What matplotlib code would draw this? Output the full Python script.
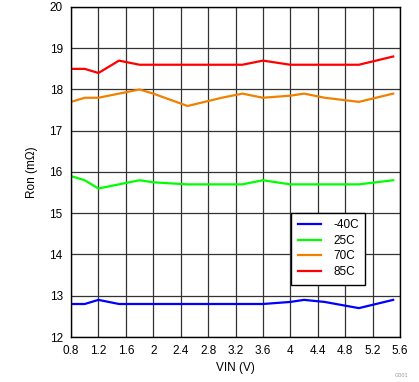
import matplotlib
matplotlib.use('Agg')
import matplotlib.pyplot as plt
import numpy as np

plt.rcParams['font.family'] = ['Liberation Sans', 'DejaVu Sans']

# VIN sample points (V)
vin = [0.8, 1.0, 1.2, 1.5, 1.8, 2.0, 2.5, 3.0, 3.3, 3.6, 4.0, 4.2, 4.5, 5.0, 5.5]

# Ron (mOhm) per temperature
ron_m40 = [12.8, 12.8, 12.9, 12.8, 12.8, 12.8, 12.8, 12.8, 12.8, 12.8, 12.85, 12.9, 12.85, 12.7, 12.9]
ron_25 = [15.9, 15.8, 15.6, 15.7, 15.8, 15.75, 15.7, 15.7, 15.7, 15.8, 15.7, 15.7, 15.7, 15.7, 15.8]
ron_70 = [17.7, 17.8, 17.8, 17.9, 18.0, 17.9, 17.6, 17.8, 17.9, 17.8, 17.85, 17.9, 17.8, 17.7, 17.9]
ron_85 = [18.5, 18.5, 18.4, 18.7, 18.6, 18.6, 18.6, 18.6, 18.6, 18.7, 18.6, 18.6, 18.6, 18.6, 18.8]

labels = ['-40C', '25C', '70C', '85C']
colors = ['#0000FF', '#00FF00', '#F08000', '#FF0000']

xticks = [0.8, 1.2, 1.6, 2, 2.4, 2.8, 3.2, 3.6, 4, 4.4, 4.8, 5.2, 5.6]
xticklabels = ['0.8', '1.2', '1.6', '2', '2.4', '2.8', '3.2', '3.6', '4', '4.4', '4.8', '5.2', '5.6']

fig = plt.figure(figsize=(4.19, 3.82), dpi=100)
ax = fig.add_axes([0.1695, 0.1178, 0.7852, 0.8639])

for y, lab, c in zip([ron_m40, ron_25, ron_70, ron_85], labels, colors):
    ax.plot(vin, y, color=c, lw=1.6, label=lab)

ax.set_xlim(0.8, 5.6)
ax.set_ylim(12, 20)
ax.set_xticks(xticks)
ax.set_xticklabels(xticklabels)
ax.set_yticks(range(12, 21))
ax.tick_params(length=0, labelsize=8.5, pad=6)
ax.grid(True, color='#333333', lw=0.9)
ax.set_axisbelow(True)
for s in ax.spines.values():
    s.set_color('black')
    s.set_linewidth(1.0)

ax.set_xlabel('VIN (V)', fontsize=8.5, labelpad=3)
ax.set_ylabel('Ron (m\u03a9)', fontsize=8.5, labelpad=8)

leg = ax.legend(loc='upper left', bbox_to_anchor=(0.669, 0.376), fontsize=8.5,
                frameon=True, fancybox=False, framealpha=1, edgecolor='black',
                handlelength=2.0, handletextpad=1.0, labelspacing=0.3,
                borderpad=0.55, borderaxespad=0)
leg.get_frame().set_linewidth(1.0)

fig.text(0.975, 0.01, 'G001', fontsize=4, color='#999999', ha='right', va='bottom')

fig.savefig('out.png', dpi=100)
